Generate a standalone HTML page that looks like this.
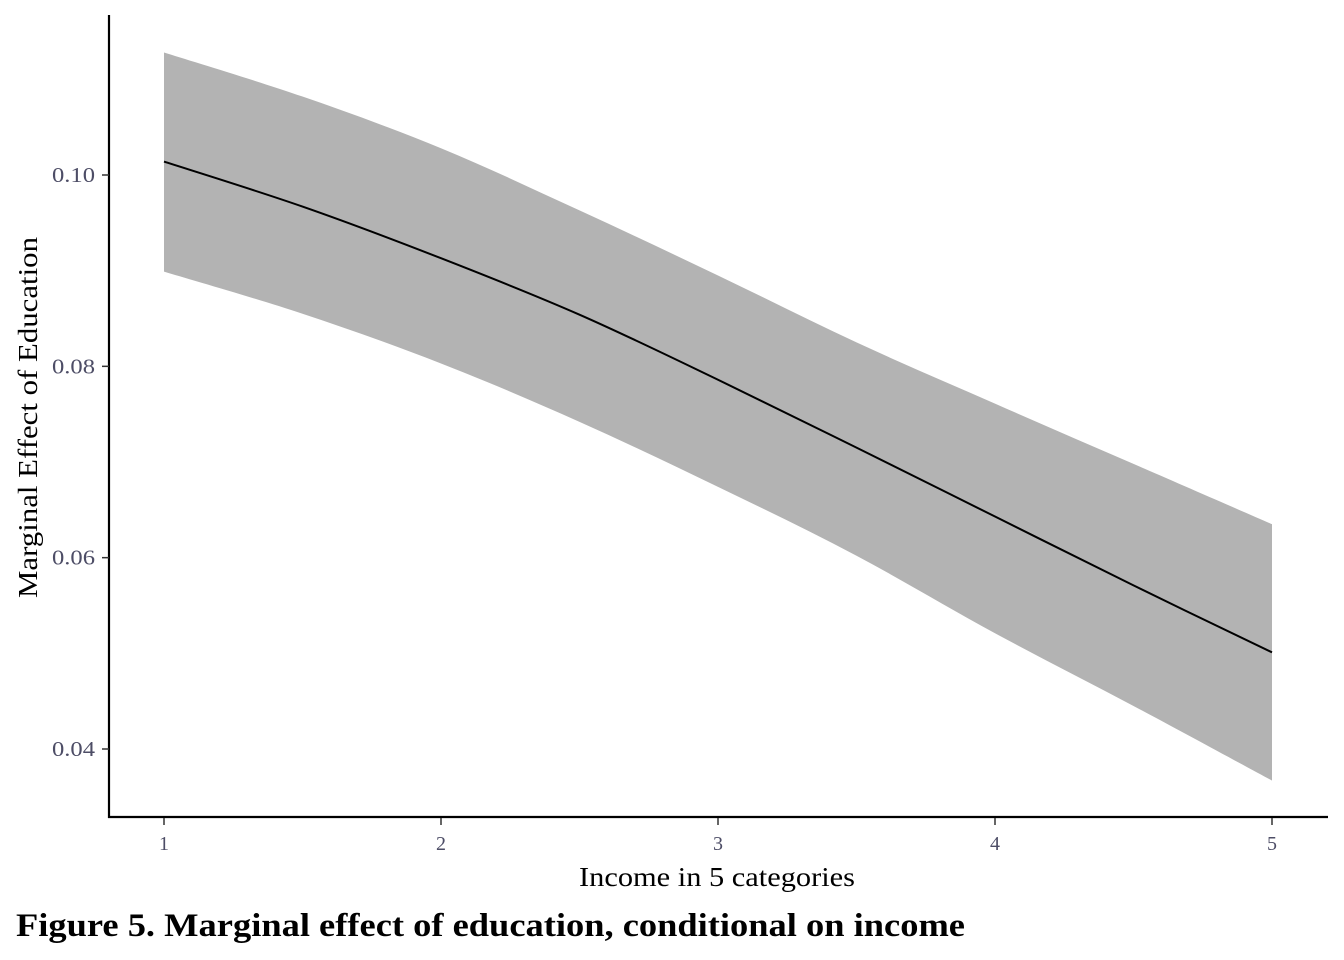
<!DOCTYPE html>
<html><head><meta charset="utf-8"><style>
html,body{margin:0;padding:0;background:#fff;}
svg{display:block;font-family:"Liberation Serif",serif;}
</style></head><body>
<svg id="chart" width="1344" height="960" viewBox="0 0 1344 960">
<g id="band"></g>
<g id="line"></g>
<line x1="109" y1="15" x2="109" y2="818" stroke="#000" stroke-width="2.2"/>
<line x1="108" y1="817" x2="1328" y2="817" stroke="#000" stroke-width="2.2"/>
<g id="xticks"></g>
<g id="yticks"></g>
<text x="579" y="886" font-size="27" textLength="276" lengthAdjust="spacingAndGlyphs" fill="#000">Income in 5 categories</text>
<text x="237" y="37" font-size="27" textLength="361" lengthAdjust="spacingAndGlyphs" fill="#000" transform="translate(0,835) rotate(-90 0 0) translate(0,0)" id="ytitle">Marginal Effect of Education</text>
<text x="16" y="936" font-size="33" font-weight="bold" textLength="949" lengthAdjust="spacingAndGlyphs" fill="#000">Figure 5. Marginal effect of education, conditional on income</text>
</svg>
<script>
const xVals = [1, 1.5, 2, 2.5, 3, 3.5, 4, 4.5, 5];
const estimate = [0.1014, 0.0967, 0.0913, 0.0854, 0.0786, 0.0715, 0.0643, 0.0571, 0.0501];
const upper = [0.1128, 0.1082, 0.1028, 0.0963, 0.0895, 0.0825, 0.0761, 0.0698, 0.0635];
const lower = [0.0899, 0.0855, 0.0803, 0.0742, 0.0674, 0.0602, 0.0521, 0.0445, 0.0367];
const xTicks = [1, 2, 3, 4, 5];
const yTicks = [0.04, 0.06, 0.08, 0.10];
const yTickLabels = ["0.04", "0.06", "0.08", "0.10"];

const NS = "http://www.w3.org/2000/svg";
function sx(v){ return 164 + (v - 1) * 277; }
function sy(v){ return 175 + (0.10 - v) * 9566.7; }

// y title: rotate so text runs bottom-to-top from y=598 to y=237, baseline at x=37
const yt = document.getElementById("ytitle");
yt.setAttribute("x", -598); yt.setAttribute("y", 37);
yt.setAttribute("transform", "rotate(-90)");

function curve(xs, ys, start){
  const p = xs.map((x,i)=>[sx(x), sy(ys[i])]);
  let d = start ? "M" + p[0][0] + "," + p[0][1] : "L" + p[0][0] + "," + p[0][1];
  for (let i=0;i<p.length-1;i++){
    const p0=p[Math.max(i-1,0)], p1=p[i], p2=p[i+1], p3=p[Math.min(i+2,p.length-1)];
    const c1=[p1[0]+(p2[0]-p0[0])/6, p1[1]+(p2[1]-p0[1])/6];
    const c2=[p2[0]-(p3[0]-p1[0])/6, p2[1]-(p3[1]-p1[1])/6];
    d += " C"+c1[0]+","+c1[1]+" "+c2[0]+","+c2[1]+" "+p2[0]+","+p2[1];
  }
  return d;
}

const band = document.createElementNS(NS, "path");
const rx = xVals.slice().reverse(), rl = lower.slice().reverse();
band.setAttribute("d", curve(xVals, upper, true) + " " + curve(rx, rl, false) + " Z");
band.setAttribute("fill", "#b3b3b3");


document.getElementById("band").appendChild(band);

const line = document.createElementNS(NS, "path");
line.setAttribute("d", curve(xVals, estimate, true));
line.setAttribute("fill", "none");
line.setAttribute("stroke", "#000");
line.setAttribute("stroke-width", "2");


document.getElementById("line").appendChild(line);

const xg = document.getElementById("xticks");
xTicks.forEach(t=>{
  const l = document.createElementNS(NS, "line");
  l.setAttribute("x1", sx(t)); l.setAttribute("x2", sx(t));
  l.setAttribute("y1", 818); l.setAttribute("y2", 825);
  l.setAttribute("stroke", "#333"); l.setAttribute("stroke-width", "1.5");
  
  
  xg.appendChild(l);
  const tx = document.createElementNS(NS, "text");
  tx.setAttribute("x", sx(t)); tx.setAttribute("y", 850);
  tx.setAttribute("text-anchor", "middle"); tx.setAttribute("font-size", "20");
  tx.setAttribute("fill", "#4d4d66");
  tx.textContent = String(t);
  
  
  xg.appendChild(tx);
});

const yg = document.getElementById("yticks");
yTicks.forEach((t,i)=>{
  const l = document.createElementNS(NS, "line");
  l.setAttribute("x1", 102); l.setAttribute("x2", 109);
  l.setAttribute("y1", sy(t)); l.setAttribute("y2", sy(t));
  l.setAttribute("stroke", "#333"); l.setAttribute("stroke-width", "1.5");
  
  
  yg.appendChild(l);
  const tx = document.createElementNS(NS, "text");
  tx.setAttribute("x", 52); tx.setAttribute("y", sy(t) + 7);
  tx.setAttribute("font-size", "21");
  tx.setAttribute("textLength", "43");
  tx.setAttribute("lengthAdjust", "spacingAndGlyphs");
  tx.setAttribute("fill", "#4d4d66");
  tx.textContent = yTickLabels[i];
  
  
  yg.appendChild(tx);
});
</script>
</body></html>
